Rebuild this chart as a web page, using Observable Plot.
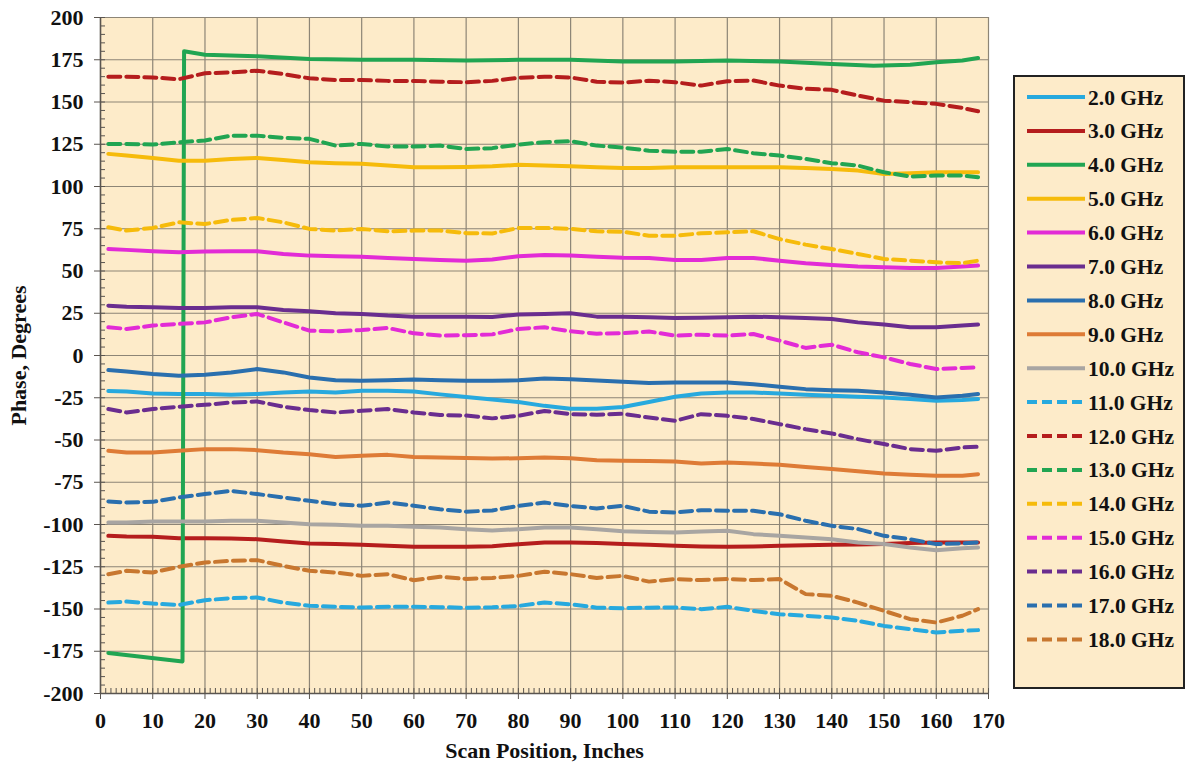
<!DOCTYPE html>
<html>
<head>
<meta charset="utf-8">
<script src="https://cdn.jsdelivr.net/npm/d3@7"></script>
<script src="https://cdn.jsdelivr.net/npm/@observablehq/plot@0.6"></script>
<style>
  body { margin: 0; background: #ffffff; }
  #wrap { position: relative; width: 1187px; height: 768px; overflow: hidden; }
  #chart { position: absolute; left: 0; top: 0; }
  #legend { position: absolute; left: 1013px; top: 75px; }
  #chart svg text, #legend text { font-family: "Liberation Serif", "Times New Roman", serif !important; font-weight: bold; font-variant: normal !important; }
</style>
</head>
<body>
<div id="wrap">
  <div id="chart"></div>
  <svg id="legend"></svg>
</div>
<script>
// Scan positions (inches) shared by every frequency trace except 4.0 GHz
const positions = [1.5, 5, 10, 15, 20, 25, 30, 35, 40, 45, 50, 55, 60, 65, 70, 75, 80, 85, 90, 95,
  100, 105, 110, 115, 120, 125, 130, 135, 140, 145, 150, 155, 160, 165, 168];

// 4.0 GHz wraps from -180 to +180 near 16 in, so it keeps its own positions
const positions4 = [1.5, 15.7, 16.0, 20, 30, 40, 50, 60, 70, 80, 90, 100, 110, 120, 130, 140, 148, 155, 160, 165, 168];
const phase4 = [-176, -181, 180, 178, 177, 175.5, 175, 175, 174.5, 175, 175, 174, 174, 174.5, 174, 172.5, 171.5, 172, 173.5, 174.5, 176];

// Phase in degrees at each scan position
const phase2 = [-21, -21.3, -22.5, -22.8, -22.8, -23.2, -22.8, -21.9, -21.3, -21.9, -20.9, -20.9, -21.3, -23, -24.5, -26, -27.5, -29.8, -31.5, -31.5,
  -30.5, -27.5, -24.4, -22.5, -21.9, -21.9, -22.5, -23.2, -23.8, -24.4, -24.8, -25.8, -26.8, -26.4, -25.8];
const phase3 = [-106.7, -107.1, -107.3, -108.1, -108.1, -108.3, -108.7, -110.1, -111.2, -111.6, -112, -112.6, -113.2, -113.2, -113.2, -112.8, -111.7, -110.7, -110.7, -111,
  -111.5, -112, -112.6, -113, -113.2, -113, -112.6, -112.3, -112, -111.8, -111.6, -111, -110.6, -110.6, -110.6];
const phase5 = [119.3, 118.3, 116.9, 115.3, 115.3, 116.3, 116.9, 115.7, 114.3, 113.8, 113.4, 112.4, 111.4, 111.4, 111.6, 112, 112.8, 112.4, 112, 111.4,
  111, 111, 111.4, 111.4, 111.4, 111.4, 111.4, 111, 110.4, 109.4, 107.4, 107.8, 108.4, 108.4, 108.4];
const phase6 = [63, 62.5, 61.7, 61.1, 61.5, 61.7, 61.7, 60.1, 59.1, 58.7, 58.5, 57.7, 57.1, 56.5, 56.1, 56.8, 58.7, 59.5, 59.1, 58.5,
  57.9, 57.7, 56.5, 56.5, 57.7, 57.7, 56.1, 54.6, 53.6, 52.6, 52.2, 51.8, 51.8, 52.6, 53.2];
const phase7 = [29.5, 28.9, 28.5, 28.1, 28.1, 28.5, 28.5, 26.9, 26.2, 25, 24.6, 23.6, 23, 23, 23, 22.8, 24.2, 24.6, 25, 23,
  23, 22.6, 22.2, 22.4, 22.6, 23, 22.6, 22.2, 21.6, 19.6, 18.3, 16.7, 16.7, 17.7, 18.3];
const phase8 = [-8.6, -9.4, -11, -12, -11.4, -10, -8, -10, -13, -14.6, -15, -14.6, -14.2, -14.6, -15, -15, -14.6, -13.6, -14, -14.8,
  -15.5, -16.2, -16, -16, -16, -17, -18.5, -19.9, -20.5, -20.9, -21.9, -23.2, -24.8, -23.8, -22.8];
const phase9 = [-56.4, -57.4, -57.4, -56.4, -55.4, -55.4, -56, -57.4, -58.4, -60, -59.3, -58.8, -60, -60.3, -60.7, -61, -60.8, -60.4, -60.8, -62,
  -62.3, -62.4, -62.7, -63.9, -63.3, -63.9, -64.7, -66, -67.2, -68.5, -69.8, -70.5, -71.2, -71.2, -70.2];
const phase10 = [-98.8, -98.8, -98.2, -98.2, -98.2, -97.8, -97.8, -98.8, -99.8, -100.2, -100.8, -100.8, -101.4, -101.8, -102.8, -103.5, -102.8, -101.8, -101.8, -102.8,
  -104, -104.5, -104.7, -104.1, -103.7, -105.7, -106.7, -107.7, -108.7, -110.6, -111.6, -113.6, -115.2, -114, -113.6];
const phase11 = [-146.2, -145.6, -146.8, -147.6, -144.8, -143.6, -143.2, -146.2, -148.1, -148.7, -149.1, -148.7, -148.7, -148.9, -149.3, -149, -148.2, -146.2, -147.2, -149.2,
  -149.5, -149.2, -149.1, -150.1, -148.7, -151.1, -153.1, -154, -155, -157, -160, -161.9, -163.9, -162.9, -162.5];
const phase12 = [165, 165, 164.5, 163.5, 167, 167.5, 168.5, 166.5, 164, 163, 163, 162.5, 162.5, 162, 161.7, 162.5, 164.3, 165, 164.5, 162,
  161.5, 162.6, 161.7, 159.7, 162.3, 162.7, 159.7, 157.8, 157.2, 153.8, 150.8, 149.9, 148.9, 146.5, 144.5];
const phase13 = [125.2, 125.2, 124.8, 126.2, 127.2, 130.1, 130.1, 128.8, 128.2, 124.2, 125.2, 123.6, 123.6, 124.2, 122.2, 122.7, 124.8, 126.2, 126.8, 124.2,
  123, 121.2, 120.6, 120.6, 122.2, 119.7, 118.3, 116.3, 113.8, 112.4, 108.4, 105.9, 106.5, 106.5, 105.5];
const phase14 = [75.9, 73.9, 75.5, 78.8, 77.8, 80.2, 81.4, 78.8, 74.9, 73.9, 74.9, 73.5, 73.9, 73.9, 72.4, 72.2, 75.5, 75.5, 74.9, 73.5,
  73.2, 70.9, 70.9, 72.3, 72.9, 73.5, 68.9, 65.6, 63, 60.1, 57.1, 56.1, 55.2, 54.6, 56.1];
const phase15 = [16.7, 15.7, 17.7, 18.7, 19.6, 22.6, 24.6, 19.6, 14.7, 14.3, 15.1, 16.3, 13.1, 11.8, 12, 12.5, 15.7, 16.7, 14.3, 12.9,
  13.2, 14.2, 11.8, 12.3, 11.8, 12.7, 8.8, 4.5, 6.4, 1.9, -1.1, -5, -8, -7.4, -7];
const phase16 = [-31.7, -33.7, -31.7, -30.3, -29.2, -27.8, -27.2, -30.3, -32.3, -33.7, -32.7, -31.7, -33.7, -35.2, -35.5, -37.2, -35.7, -32.8, -34.7, -35,
  -34.5, -36.7, -38.6, -34.7, -35.7, -37.6, -40.6, -43.6, -46.1, -49.5, -52.4, -55.4, -56.4, -54.4, -54];
const phase17 = [-86.4, -87, -86.6, -84, -82, -80.1, -82, -84, -86, -88, -88.9, -87, -88.9, -91, -92.4, -91.7, -89, -87, -89, -90.5,
  -89, -92.4, -92.9, -91.5, -91.9, -91.9, -93.9, -97.8, -100.8, -102.7, -106.7, -108.7, -111.6, -111.2, -110.6];
const phase18 = [-129.4, -127.4, -128.4, -125, -122.5, -121.5, -121.1, -124.5, -127.4, -128.4, -130.4, -129.4, -133, -130.9, -132.2, -131.6, -130.4, -127.9, -129.4, -131.6,
  -130.4, -133.8, -132.3, -132.9, -132.3, -132.9, -132.3, -141.2, -142.2, -146.2, -151.1, -156, -158, -154, -150.1];

// Series labels in legend order
const labels = ["2.0 GHz", "3.0 GHz", "4.0 GHz", "5.0 GHz", "6.0 GHz", "7.0 GHz", "8.0 GHz", "9.0 GHz", "10.0 GHz",
  "11.0 GHz", "12.0 GHz", "13.0 GHz", "14.0 GHz", "15.0 GHz", "16.0 GHz", "17.0 GHz", "18.0 GHz"];

// Axis ticks
const xTicks = d3.range(0, 171, 10);
const yTicks = d3.range(-200, 201, 25);
const xMinor = d3.range(0, 171, 1);
const yMinor = d3.range(-200, 201, 5);

// Line styling per series
const styleOf = {
  "2.0 GHz":  {color: "#27a9de", dash: null},
  "3.0 GHz":  {color: "#b51d1d", dash: null},
  "4.0 GHz":  {color: "#21a552", dash: null},
  "5.0 GHz":  {color: "#f6bb0b", dash: null},
  "6.0 GHz":  {color: "#e22bd6", dash: null},
  "7.0 GHz":  {color: "#6a2d8f", dash: null},
  "8.0 GHz":  {color: "#2a6fae", dash: null},
  "9.0 GHz":  {color: "#de7b36", dash: null},
  "10.0 GHz": {color: "#a8a5a2", dash: null},
  "11.0 GHz": {color: "#27a9de", dash: "12,6"},
  "12.0 GHz": {color: "#b51d1d", dash: "12,6"},
  "13.0 GHz": {color: "#21a552", dash: "12,6"},
  "14.0 GHz": {color: "#f6bb0b", dash: "12,6"},
  "15.0 GHz": {color: "#e22bd6", dash: "12,6"},
  "16.0 GHz": {color: "#6a2d8f", dash: "12,6"},
  "17.0 GHz": {color: "#2a6fae", dash: "12,6"},
  "18.0 GHz": {color: "#c8772f", dash: "12,6"}
};

const valuesOf = {
  "2.0 GHz": phase2, "3.0 GHz": phase3, "5.0 GHz": phase5, "6.0 GHz": phase6, "7.0 GHz": phase7,
  "8.0 GHz": phase8, "9.0 GHz": phase9, "10.0 GHz": phase10, "11.0 GHz": phase11, "12.0 GHz": phase12,
  "13.0 GHz": phase13, "14.0 GHz": phase14, "15.0 GHz": phase15, "16.0 GHz": phase16, "17.0 GHz": phase17,
  "18.0 GHz": phase18
};

function rowsFor(label) {
  if (label === "4.0 GHz") return positions4.map((x, i) => ({x, y: phase4[i], label}));
  return positions.map((x, i) => ({x, y: valuesOf[label][i], label}));
}

const W = 1010, H = 768;
const mL = 100, mR = 22, mT = 17, mB = 75;
const plotW = W - mL - mR, plotH = H - mT - mB;
const axisColor = "#5a5550";
const gridColor = "#8d8576";
const bg = "#fdebc9";
const font = "Liberation Serif";
const ink = "#111";

const lineMarks = labels.map(label => Plot.line(rowsFor(label), {
  x: "x", y: "y",
  stroke: styleOf[label].color,
  strokeWidth: 4,
  strokeDasharray: styleOf[label].dash,
  strokeLinejoin: "round"
}));

const chart = Plot.plot({
  width: W, height: H,
  marginLeft: mL, marginRight: mR, marginTop: mT, marginBottom: mB,
  style: {fontFamily: font, fontWeight: "bold", fontSize: "22px", color: ink, background: "transparent"},
  x: {domain: [0, 170]},
  y: {domain: [-200, 200]},
  marks: [
    Plot.frame({fill: bg, stroke: null}),
    Plot.gridX(xTicks, {stroke: gridColor, strokeOpacity: 1, strokeWidth: 1.2}),
    Plot.gridY(yTicks, {stroke: gridColor, strokeOpacity: 1, strokeWidth: 1.2}),
    // inward minor ticks
    Plot.tickX(xMinor, {x: d => d, insetTop: plotH - 5, stroke: axisColor, strokeWidth: 1}),
    Plot.tickY(yMinor, {y: d => d, insetRight: plotW - 5, stroke: axisColor, strokeWidth: 1}),
    Plot.ruleX([0], {stroke: axisColor, strokeWidth: 1.5}),
    Plot.ruleY([-200], {stroke: axisColor, strokeWidth: 1.5}),
    // outward major ticks (labels drawn separately below)
    Plot.axisX(xTicks, {tickSize: 6, stroke: axisColor, tickFormat: () => "", label: null}),
    Plot.axisY(yTicks, {tickSize: 6, stroke: axisColor, tickFormat: () => "", label: null}),
    // tick labels
    Plot.text(xTicks, {x: d => d, frameAnchor: "bottom", dy: 27, lineAnchor: "middle", textAnchor: "middle",
      text: d => String(d), fontFamily: font, fontSize: 22, fontWeight: "bold", fill: ink}),
    Plot.text(yTicks, {y: d => d, frameAnchor: "left", dx: -17, lineAnchor: "middle", textAnchor: "end",
      text: d => String(d), fontFamily: font, fontSize: 22, fontWeight: "bold", fill: ink}),
    ...lineMarks,
    Plot.text(["Scan Position, Inches"], {frameAnchor: "bottom", dy: 57, lineAnchor: "middle", textAnchor: "middle",
      fontFamily: font, fontSize: 22, fontWeight: "bold", fill: ink, text: d => d}),
    Plot.text(["Phase, Degrees"], {frameAnchor: "left", dx: -82, rotate: -90, lineAnchor: "middle", textAnchor: "middle",
      fontFamily: font, fontSize: 22, fontWeight: "bold", fill: ink, text: d => d})
  ]
});
document.getElementById("chart").appendChild(chart);

// Legend box drawn beside the plot
const legW = 172, legH = 614, rowTop = 22, rowStep = 33.9;
const legend = d3.select("#legend").attr("width", legW).attr("height", legH);
legend.append("rect").attr("x", 1).attr("y", 1).attr("width", legW - 2).attr("height", legH - 2)
  .attr("fill", bg).attr("stroke", "#222").attr("stroke-width", 2);
const item = legend.selectAll("g").data(labels).join("g")
  .attr("transform", (d, i) => `translate(0,${rowTop + i * rowStep})`);
item.append("line").attr("x1", 14).attr("x2", 72).attr("y1", 0).attr("y2", 0)
  .attr("stroke", d => styleOf[d].color).attr("stroke-width", 4)
  .attr("stroke-dasharray", d => styleOf[d].dash ? "10,5" : null);
item.append("text").attr("x", 75).attr("y", 0).attr("dy", "0.35em")
  .attr("font-size", 21.5).attr("fill", ink).text(d => d);
</script>
</body>
</html>
